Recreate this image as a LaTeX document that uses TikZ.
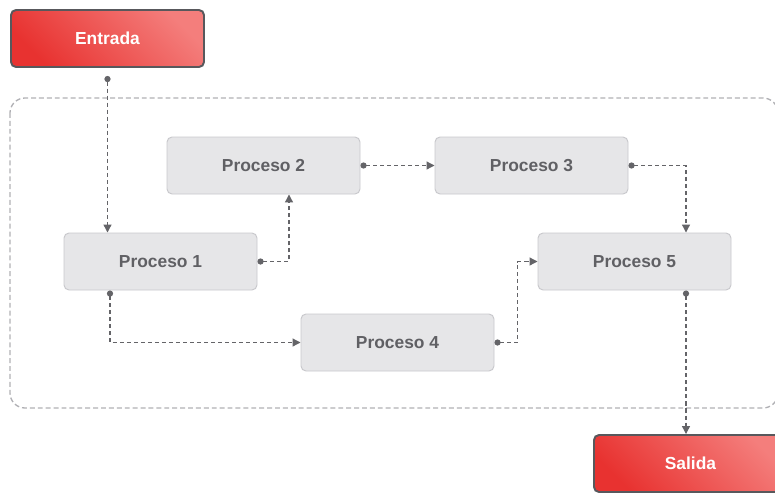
\documentclass[tikz,border=0pt]{standalone}
\usepackage{fontspec}
\setmainfont{Liberation Sans}
\usetikzlibrary{arrows.meta}

\definecolor{flowred}{RGB}{232, 50, 48}
\definecolor{flowredlight}{RGB}{244, 126, 124}
\definecolor{flowredline}{RGB}{88, 88, 92}
\definecolor{flowbox}{RGB}{230, 230, 232}
\definecolor{flowboxline}{RGB}{200, 200, 204}
\definecolor{flowtext}{RGB}{96, 96, 100}
\definecolor{flowlink}{RGB}{100, 100, 104}
\definecolor{flowgroup}{RGB}{176, 176, 180}

\begin{document}
\begin{tikzpicture}[
  x=1cm,
  y=1cm,
  procbox/.style={draw=flowboxline, line width=0.55pt, fill=flowbox, rounded corners=0.1cm,
    minimum width=3.86cm, minimum height=1.14cm, text=flowtext,
    font=\bfseries\fontsize{9.9}{12}\selectfont},
  endbox/.style={draw=flowredline, line width=1.1pt, rounded corners=0.1cm,
    top color=flowredlight, bottom color=flowred, shading angle=-45,
    minimum width=3.86cm, minimum height=1.14cm, text=white,
    font=\bfseries\fontsize{9.9}{12}\selectfont},
  link/.style={draw=flowlink, line width=0.7pt, dash pattern=on 2.3pt off 1.7pt,
    {Circle[length=3.5pt, fill=flowlink]}-{Triangle[length=4.5pt, width=4.5pt, fill=flowlink]}}
]
  \useasboundingbox (0, 0) rectangle (15.5, -9.84);

  % Dashed group around the processes
  \draw[flowgroup, line width=0.75pt, dash pattern=on 2.8pt off 1.7pt, rounded corners=0.3cm]
    (0.2, -1.96) rectangle (15.56, -8.16);

  % Input / output
  \node[endbox] (entrada) at (2.15, -0.77) {Entrada};
  \node[endbox] (salida) at (13.81, -9.27) {Salida};

  % Processes
  \node[procbox] (p1) at (3.21, -5.23) {Proceso 1};
  \node[procbox] (p2) at (5.27, -3.31) {Proceso 2};
  \node[procbox] (p3) at (10.63, -3.31) {Proceso 3};
  \node[procbox] (p4) at (7.95, -6.85) {Proceso 4};
  \node[procbox] (p5) at (12.69, -5.23) {Proceso 5};

  % Connectors
  \draw[link] ([yshift=-0.16cm]entrada.south) -- (entrada.south |- p1.north);
  \draw[link] (p1.east) -| ([xshift=0.51cm]p2.south);
  \draw[link] (p2.east) -- (p3.west);
  \draw[link] (p3.east) -| ([xshift=1.03cm]p5.north);
  \draw[link] ([xshift=-1.01cm]p1.south) |- (p4.west);
  \draw[link] (p4.east) -- ++(0.46, 0) |- (p5.west);
  \draw[link] ([xshift=1.03cm]p5.south) -- ([xshift=1.03cm]p5.south |- salida.north);

\end{tikzpicture}
\end{document}
